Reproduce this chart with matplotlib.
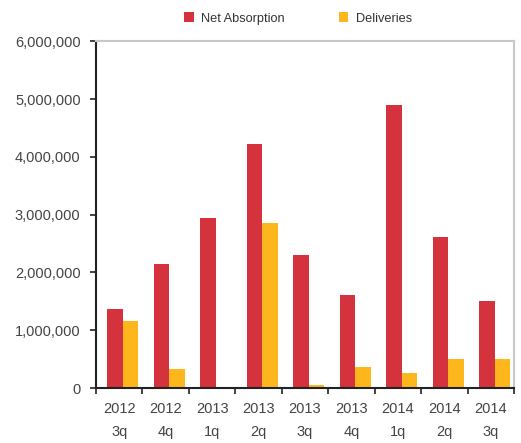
import numpy as np
import matplotlib.pyplot as plt
from matplotlib.ticker import FuncFormatter

# Datos
periodos = ["2012\n3q", "2012\n4q", "2013\n1q", "2013\n2q", "2013\n3q",
            "2013\n4q", "2014\n1q", "2014\n2q", "2014\n3q"]
net_absorption = [1370000, 2150000, 2940000, 4220000, 2300000,
                  1610000, 4900000, 2610000, 1500000]
deliveries = [1160000, 330000, 0, 2850000, 50000,
              360000, 260000, 500000, 500000]

plt.rcParams["font.family"] = ["Liberation Sans", "DejaVu Sans"]

fig = plt.figure(figsize=(5.21, 4.43), dpi=100)
ax = fig.add_axes([0.184, 0.124, 0.803, 0.783])

x = np.arange(len(periodos))
w = 0.33
ax.bar(x - 0.085, net_absorption, w, color="#D4323C", label="Net Absorption")
ax.bar(x - 0.085 + w, deliveries, w, color="#FDB71C", label="Deliveries")

ax.set_xlim(-0.5, len(periodos) - 0.5)
ax.set_ylim(0, 6000000)
ax.set_yticks(np.arange(0, 6000001, 1000000))
ax.yaxis.set_major_formatter(FuncFormatter(lambda v, p: f"{int(v):,}"))

# ticks mayores en los limites, etiquetas en los centros
ax.set_xticks(np.arange(-0.5, len(periodos), 1.0))
ax.set_xticklabels([])
ax.set_xticks(x, minor=True)
ax.set_xticklabels(periodos, minor=True, linespacing=1.8)
ax.tick_params(axis="x", which="minor", length=0, pad=10, labelsize=10.5, colors="#444444")
ax.tick_params(axis="x", which="major", length=4, width=1.2, color="#222222")
ax.tick_params(axis="y", length=4, width=1.2, color="#222222", pad=7,
               labelsize=10.5, labelcolor="#444444")

for s in ["left", "bottom"]:
    ax.spines[s].set_color("#222222")
    ax.spines[s].set_linewidth(1.5)
for s in ["top", "right"]:
    ax.spines[s].set_color("#c8c8c8")
    ax.spines[s].set_linewidth(1.5)

fig.legend(loc="upper center", bbox_to_anchor=(0.572, 0.998), ncol=2, frameon=False,
           fontsize=9.2, handlelength=0.75, handleheight=0.75, columnspacing=4.2,
           handletextpad=0.6, labelcolor="#333333")

fig.savefig("out.png", dpi=100)
